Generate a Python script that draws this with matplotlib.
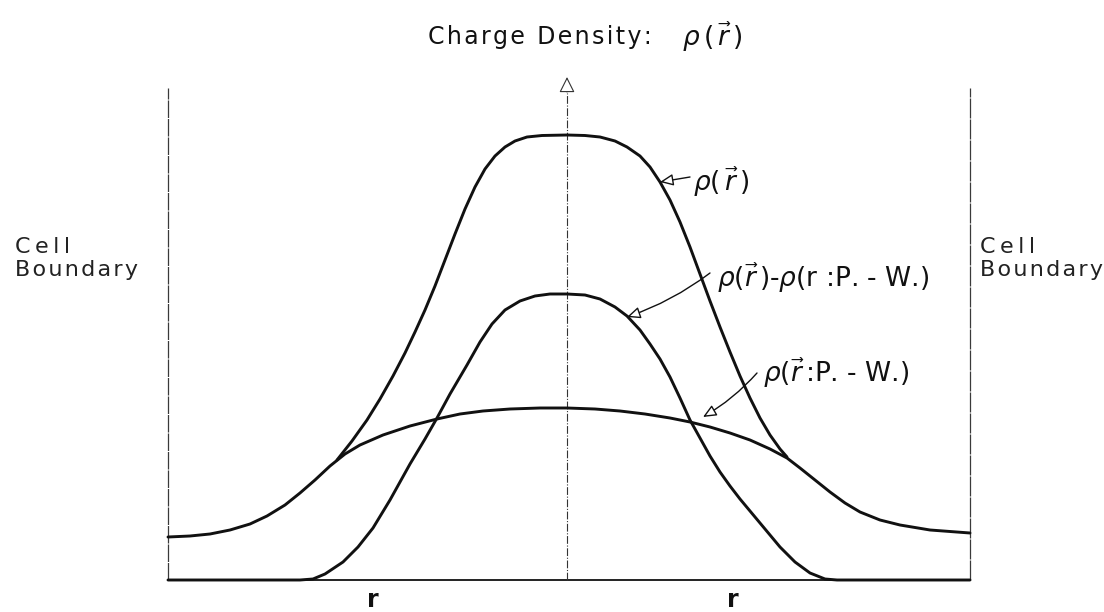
import matplotlib
matplotlib.use("Agg")
import matplotlib.pyplot as plt

plt.rcParams['font.family'] = ['DejaVu Sans']
plt.rcParams['mathtext.fontset'] = 'dejavusans'

# Radial position (arbitrary units, 0 = atom centre, cell boundaries at -399 / +403)
r_pw = [-399, -377, -357, -337, -317, -300, -282, -267, -252, -237, -222, -207,
        -184, -157, -130, -107, -84, -57, -27, 0, 28, 53, 78, 103, 123, 143,
        163, 183, 203, 220, 233, 248, 263, 278, 293, 313, 333, 363, 403]
# pseudo-wavefunction charge density  rho(r : P.-W.)
rho_pw = [43, 44, 46, 50, 56, 64, 75, 87, 100, 114, 126, 135,
          145, 154, 161, 166, 169, 171, 172, 172, 171, 169, 166, 162, 158, 153,
          147, 140, 131, 122, 112, 100, 88, 77, 68, 60, 55, 50, 47]

r_diff = [-399, -317, -267, -254, -242, -224, -209, -194, -177, -157, -142,
          -130, -117, -100, -87, -75, -62, -47, -32, -17, 0, 18, 33, 48, 60,
          73, 83, 93, 103, 113, 123, 133, 143, 153, 163, 173, 183, 198, 213,
          228, 243, 258, 270, 403]
# rho(r) - rho(r : P.-W.)
rho_diff = [0, 0, 0, 1, 6, 18, 33, 52, 80, 116, 141,
            162, 186, 215, 238, 256, 270, 279, 284, 286, 286, 285, 281, 273, 264,
            250, 236, 221, 203, 182, 160, 142, 124, 108, 94, 81, 69, 51, 33,
            18, 7, 1, 0, 0]

r_tot = [-230, -215, -200, -187, -174, -162, -152, -142, -132, -122, -112,
         -102, -92, -82, -72, -62, -52, -40, -25, 0, 18, 33, 48, 60, 73, 83,
         93, 103, 113, 123, 133, 143, 153, 163, 173, 183, 193, 203, 213, 220]
# total charge density rho(r)
rho_tot = [120, 139, 160, 181, 204, 227, 248, 270, 294, 320, 346,
           371, 393, 411, 424, 433, 439, 443, 444.5, 445, 444.5, 443, 439, 433,
           424, 413, 398, 380, 358, 333, 306, 279, 253, 228, 204, 182, 162,
           145, 131, 123]

cell_left, cell_right, cell_top = -399, 403, 492

HAIR = '\u200a'


def spaced(text, sep=HAIR):
    """Open up the letter spacing of a plain string."""
    return sep.join(text)


fig = plt.figure(figsize=(11.04, 6.12), dpi=100)
ax = fig.add_axes([0, 0, 1, 1])
ax.set_xlim(-567, 537)
ax.set_ylim(-32, 580)
ax.axis('off')

ink = '#111111'
curve_lw = 2.1

# cell boundaries and baseline
ax.plot([cell_left, cell_left], [0, cell_top], color='#3a3a3a', lw=0.9,
        ls=(0, (14, 0.8)))
ax.plot([cell_right, cell_right], [0, cell_top], color='#3a3a3a', lw=0.9,
        ls=(0, (16, 0.8)))
ax.plot([cell_left, cell_right], [0, 0], color=ink, lw=1.3)

# central axis with open arrowhead
ax.plot([0, 0], [0, 487], color='#333333', lw=0.8, ls=(0, (7, 1.5, 1, 1.5)))
ax.annotate('', xy=(0, 503), xytext=(0, 488),
            arrowprops=dict(arrowstyle='-|>,head_length=0.6,head_width=0.3',
                            fc='white', ec='#333333', lw=0.8,
                            mutation_scale=16, shrinkA=0, shrinkB=0))

# density curves
for xs, ys in [(r_pw, rho_pw), (r_diff, rho_diff), (r_tot, rho_tot)]:
    ax.plot(xs, ys, color=ink, lw=curve_lw, solid_capstyle='round',
            solid_joinstyle='round')

# title
ax.text(-139, 543, spaced('Charge Density:'), fontsize=17,
        ha='left', va='center', color=ink)
ax.text(115, 543, r'$\rho\,(\,\vec{r}\,)$', fontsize=19, ha='left',
        va='center', color=ink)

# cell boundary labels
for x0 in (-552, 413):
    ax.text(x0, 343, spaced('Cell', '\u2009') + '\n' + spaced('Boundary'),
            fontsize=16, ha='left', va='top', linespacing=1.2,
            color='#222222')

# curve labels with pointer arrows
arrow_kw = dict(arrowstyle='-|>,head_length=0.5,head_width=0.22',
                fc='white', ec=ink, lw=1.0, mutation_scale=16,
                shrinkA=0, shrinkB=0)

ax.text(126, 398, r'$\rho(\,\vec{r}\,)$', fontsize=19, ha='left',
        va='center', color=ink)
ax.annotate('', xy=(93, 398), xytext=(123, 403), arrowprops=arrow_kw)

ax.text(150, 302, r'$\rho(\vec{r}\,)$-$\rho($r :P. - W.$)$', fontsize=19,
        ha='left', va='center', color=ink)
ax.annotate('', xy=(60, 263), xytext=(143, 307),
            arrowprops=dict(connectionstyle='arc3,rad=-0.08', **arrow_kw))

ax.text(196, 207, r'$\rho(\vec{r}\,$:P. - W.$)$', fontsize=19, ha='left',
        va='center', color=ink)
ax.annotate('', xy=(136, 163), xytext=(190, 207),
            arrowprops=dict(connectionstyle='arc3,rad=-0.08', **arrow_kw))

# radial axis labels
ax.text(-194, -20, 'r', fontsize=17, fontweight='bold', ha='center',
        va='center', color=ink)
ax.text(166, -20, 'r', fontsize=17, fontweight='bold', ha='center',
        va='center', color=ink)

fig.savefig('out.png', dpi=100)
